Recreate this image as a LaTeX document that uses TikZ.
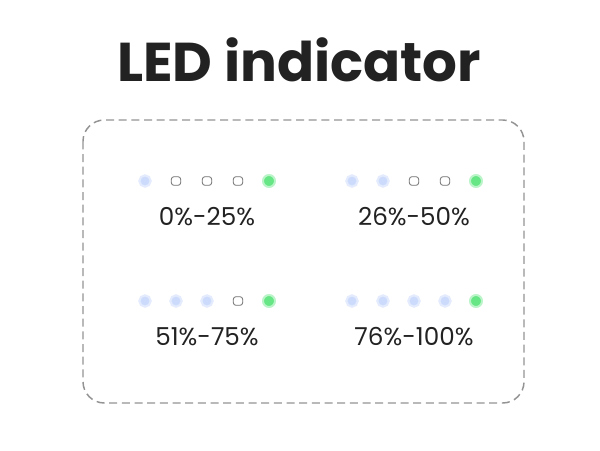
\documentclass[tikz,border=0pt]{standalone}
\usepackage{fontspec}
\setmainfont{Poppins}
\usetikzlibrary{positioning}

\definecolor{ledblue}{HTML}{CCDBFB}
\definecolor{ledgreen}{HTML}{66E684}
\definecolor{ledgray}{HTML}{707070}
\definecolor{txtdark}{HTML}{222222}

\begin{document}
\begin{tikzpicture}[x=0.75pt, y=-0.75pt,
	on grid, node distance=23.25pt,
	ledblu/.style={circle, inner sep=0pt, minimum size=8.5pt, fill=ledblue, draw=ledblue!55, line width=1.6pt},
	ledgrn/.style={circle, inner sep=0pt, minimum size=9pt, fill=ledgreen, draw=ledgreen!45, line width=1.5pt},
	ledoff/.style={rectangle, rounded corners=2pt, inner sep=0pt, minimum width=7pt, minimum height=6.5pt, draw=ledgray, fill=white, line width=0.6pt},
	rangetxt/.style={font=\fontsize{18.5}{20}\selectfont, text=txtdark},
	panel/.style={draw=gray!85, dash pattern=on 6pt off 3.5pt, line width=1.1pt, rounded corners=16pt}]

	\useasboundingbox (0,0) rectangle (600,450);

	\node[anchor=base, font=\fontsize{41}{46}\bfseries, text=txtdark] (title) at (299,81) {LED indicator};

	\draw[panel] (83,120) rectangle (524,403);

	% 0%-25%
	\node[ledblu] (a1) at (145,181) {};
	\node[ledoff, right=of a1] (a2) {};
	\node[ledoff, right=of a2] (a3) {};
	\node[ledoff, right=of a3] (a4) {};
	\node[ledgrn, right=of a4] (a5) {};
	\node[rangetxt, below=27pt of a3] (la) {0\%-25\%};

	% 26%-50%
	\node[ledblu] (b1) at (352,181) {};
	\node[ledblu, right=of b1] (b2) {};
	\node[ledoff, right=of b2] (b3) {};
	\node[ledoff, right=of b3] (b4) {};
	\node[ledgrn, right=of b4] (b5) {};
	\node[rangetxt, below=27pt of b3] (lb) {26\%-50\%};

	% 51%-75%
	\node[ledblu] (c1) at (145,301) {};
	\node[ledblu, right=of c1] (c2) {};
	\node[ledblu, right=of c2] (c3) {};
	\node[ledoff, right=of c3] (c4) {};
	\node[ledgrn, right=of c4] (c5) {};
	\node[rangetxt, below=27pt of c3] (lc) {51\%-75\%};

	% 76%-100%
	\node[ledblu] (d1) at (352,301) {};
	\node[ledblu, right=of d1] (d2) {};
	\node[ledblu, right=of d2] (d3) {};
	\node[ledblu, right=of d3] (d4) {};
	\node[ledgrn, right=of d4] (d5) {};
	\node[rangetxt, below=27pt of d3] (ld) {76\%-100\%};

\end{tikzpicture}
\end{document}
